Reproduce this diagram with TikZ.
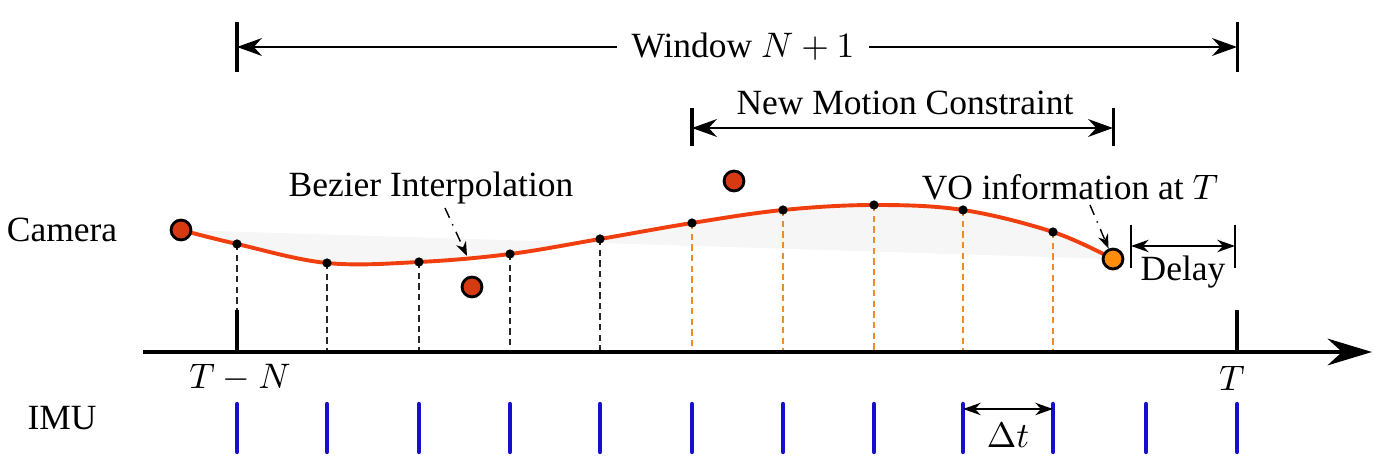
\documentclass[tikz,border=0pt]{standalone}
\usepackage{fontspec}
\setmainfont{Liberation Serif}
\usetikzlibrary{arrows.meta}
\usetikzlibrary{calc}

\definecolor{curvered}{RGB}{240,62,14}
\definecolor{framered}{RGB}{214,58,18}
\definecolor{frameorange}{RGB}{255,140,10}
\definecolor{droporange}{RGB}{240,140,40}
\definecolor{imublue}{RGB}{22,14,205}

\begin{document}
\begin{tikzpicture}[x=0.282pt, y=-0.282pt, >={Stealth[length=7pt,width=5pt]},
    axis/.style={line width=1.2pt},
    bar/.style={line width=0.85pt},
    span/.style={line width=0.7pt, <->},
    imutick/.style={line width=1.2pt, draw=imublue, line cap=round},
    curve/.style={line width=1.1pt, draw=curvered},
    sample/.style={circle, fill=black, inner sep=0pt, minimum size=2.6pt},
    frame/.style={circle, draw=black, line width=0.8pt, inner sep=0pt, minimum size=5.6pt},
    drop/.style={dash pattern=on 1.8pt off 1.2pt, line width=0.35pt},
    note/.style={-{Stealth[length=4pt,width=3pt]}, dash dot, line width=0.4pt},
    lbl/.style={inner sep=1pt},
  ]
\useasboundingbox (0,0) rectangle (1386,468);

% sample instants
\foreach \x/\y [count=\i from 0] in {181/230, 237/244, 327/263, 419/262, 510/254, 600/239,
    692/223, 783/210, 874/205, 963/210, 1053/232, 1113/259}
  \coordinate (c\i) at (\x,\y);

% time axis
\coordinate (ax0) at (143,352);
\coordinate (ax1) at (1372,352);
\coordinate (tn) at (237,310);
\coordinate (tt) at (1237,310);

% shaded area between curve and chord
\fill[gray!7] plot[smooth, tension=0.6] coordinates {(c0) (c1) (c2) (c3) (c4) (c5) (c6)
    (c7) (c8) (c9) (c10) (c11)} -- cycle;

% drops to the axis
\foreach \i in {1,...,5}
  \draw[drop, draw=black!85] (c\i) -- (c\i |- ax0);
\foreach \i in {6,...,10}
  \draw[drop, draw=droporange, line width=0.45pt] (c\i) -- (c\i |- ax0);

\draw[axis, -{Stealth[length=12.5pt,width=7.5pt]}] (ax0) -- (ax1);
\draw[axis] (tn) -- (tn |- ax0);
\draw[axis] (tt) -- (tt |- ax0);

\draw[curve] plot[smooth, tension=0.6] coordinates {(c0) (c1) (c2) (c3) (c4) (c5) (c6)
    (c7) (c8) (c9) (c10) (c11)};
\foreach \i in {1,...,10}
  \node[sample] (s\i) at (c\i) {};
\node[frame, fill=framered] (f0) at (c0) {};
\node[frame, fill=frameorange] (f11) at (c11) {};
\node[frame, fill=framered] (fa) at (472,287) {};
\node[frame, fill=framered] (fb) at (734,181) {};

% imu ticks
\foreach \x [count=\i] in {237,327,419,510,600,692,783,874,963,1053,1146,1237}
  \draw[imutick] (\x,404) coordinate (u\i) -- (\x,452);

% labels
\node[lbl] (camera) at (62,230) {Camera};
\node[lbl] (imu) at (62,418) {IMU};
\node[lbl] (tmn) at (240,378) {$T-N$};
\node[lbl] (tlast) at (1232,378) {$T$};

% window
\coordinate (wl) at (237,47);
\coordinate (wr) at (1237,47);
\draw[bar] ($(wl)+(0,-25)$) -- ($(wl)+(0,25)$);
\draw[bar] ($(wr)+(0,-25)$) -- ($(wr)+(0,25)$);
\node[lbl, inner sep=4pt] (win) at (743,47) {Window $N+1$};
\draw[line width=0.7pt, ->] (win) -- (wl);
\draw[line width=0.7pt, ->] (win) -- (wr);

% new motion constraint
\coordinate (ml) at (692,128);
\coordinate (mr) at (1113,128);
\draw[bar] ($(ml)+(0,-20)$) -- ($(ml)+(0,18)$);
\draw[bar] ($(mr)+(0,-20)$) -- ($(mr)+(0,18)$);
\draw[span] (ml) -- (mr);
\node[lbl] (nmc) at (905,103) {New Motion Constraint};

% notes
\node[lbl] (bez) at (431,188) {Bezier Interpolation};
\coordinate (bezend) at (467,256);
\draw[note] (445,208) -- (bezend);
\node[lbl] (vo) at (1070,187) {VO information at $T$};
\draw[note] (1090,205) -- (f11);

% delay
\coordinate (dl) at (1131,246);
\coordinate (dr) at (1235,246);
\draw[line width=0.4pt] ($(dl)+(0,-21)$) -- ($(dl)+(0,22)$);
\draw[line width=0.4pt] ($(dr)+(0,-21)$) -- ($(dr)+(0,22)$);
\draw[span, line width=0.5pt, {Stealth[length=5pt,width=3.5pt]}-{Stealth[length=5pt,width=3.5pt]}] (dl) -- (dr);
\node[lbl] (delay) at (1183,272) {Delay};

% imu period
\draw[span, line width=0.5pt, {Stealth[length=5pt,width=3.5pt]}-{Stealth[length=5pt,width=3.5pt]}] (u9 |- 0,409) -- (u10 |- 0,409);
\node[lbl] (dt) at (1008,435) {$\Delta t$};
\end{tikzpicture}
\end{document}
